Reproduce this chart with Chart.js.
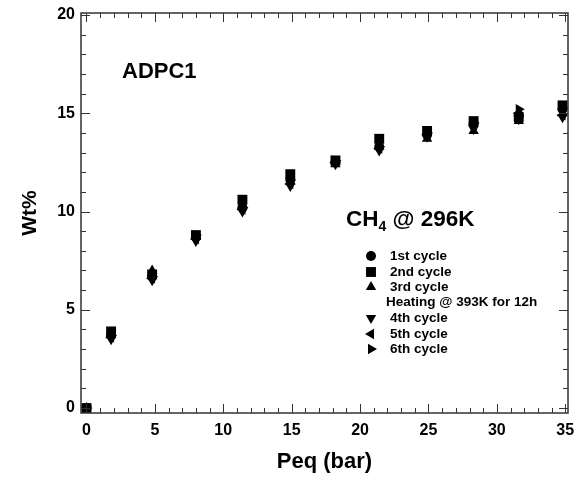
<!DOCTYPE html>
<html>
<head>
<meta charset="utf-8">
<script src="https://cdn.jsdelivr.net/npm/chart.js@4.4.1/dist/chart.umd.min.js"></script>
<style>
  html, body { margin: 0; padding: 0; background: #fff; }
  #wrap { width: 587px; height: 479px; }
</style>
</head>
<body>
<div id="wrap"><canvas id="chart"></canvas></div>
<script>
// pressure points (bar)
const pressure = [0, 1.8, 4.8, 8.0, 11.4, 14.9, 18.2, 21.4, 24.9, 28.3, 31.6, 34.8];

// uptake in Wt% for each cycle
const cycle1 = [0, 3.7, 6.7, 8.7, 10.2, 11.6, 12.5, 13.3, 13.9, 14.5, 14.9, 15.2];
const cycle2 = [0, 3.9, 6.8, 8.8, 10.6, 11.9, 12.6, 13.7, 14.1, 14.6, 14.8, 15.4];
const cycle3 = [0, 3.7, 7.0, 8.7, 10.3, 11.5, 12.4, 13.3, 13.7, 14.1, 14.6, 15.0];
const cycle4 = [0, 3.5, 6.5, 8.5, 10.0, 11.3, 12.4, 13.1, 13.8, 14.2, 14.7, 14.8];
const cycle5 = [0, 3.6, 6.6, 8.6, 10.1, 11.4, 12.5, 13.2, 13.9, 14.4, 15.0, 14.9];
const cycle6 = [0, 3.7, 6.7, 8.8, 10.2, 11.6, 12.6, 13.3, 14.0, 14.5, 15.2, 15.3];

const xTicks = [0, 5, 10, 15, 20, 25, 30, 35];
const yTicks = [0, 5, 10, 15, 20];

const cycleLabels = ['1st cycle', '2nd cycle', '3rd cycle', '4th cycle', '5th cycle', '6th cycle'];
const FONT = 'Liberation Sans, Arial, sans-serif';

function pts(ys) {
  return pressure.map((x, i) => ({ x: x, y: ys[i] }));
}

function series(label, ys, style, rot, r) {
  return {
    label: label,
    data: pts(ys),
    pointStyle: style,
    rotation: rot,
    pointRadius: r,
    backgroundColor: '#000',
    borderColor: '#000',
    borderWidth: 0,
    showLine: false
  };
}

// frame, inner ticks on all sides, annotations and the legend
const decorations = {
  id: 'decorations',
  afterDraw(chart) {
    const ctx = chart.ctx;
    const a = chart.chartArea;
    const xs = chart.scales.x, ys = chart.scales.y;
    ctx.save();
    ctx.strokeStyle = '#333';
    ctx.lineWidth = 1.5;
    ctx.strokeRect(a.left, a.top, a.right - a.left, a.bottom - a.top);

    ctx.lineWidth = 1;
    for (let v = 0; v <= 35; v++) {
      const px = Math.round(xs.getPixelForValue(v)) + 0.5;
      const len = v % 5 === 0 ? 9 : 5;
      ctx.beginPath();
      ctx.moveTo(px, a.bottom); ctx.lineTo(px, a.bottom - len);
      ctx.moveTo(px, a.top); ctx.lineTo(px, a.top + len);
      ctx.stroke();
    }
    for (let v = 0; v <= 20; v++) {
      const py = Math.round(ys.getPixelForValue(v)) + 0.5;
      const len = v % 5 === 0 ? 9 : 5;
      ctx.beginPath();
      ctx.moveTo(a.left, py); ctx.lineTo(a.left + len, py);
      ctx.moveTo(a.right, py); ctx.lineTo(a.right - len, py);
      ctx.stroke();
    }

    ctx.fillStyle = '#000';
    ctx.textBaseline = 'middle';
    ctx.textAlign = 'left';
    ctx.font = 'bold 22px ' + FONT;
    ctx.fillText('ADPC1', 122, 72);

    ctx.font = 'bold 22.5px ' + FONT;
    ctx.fillText('CH', 346, 220);
    let w = ctx.measureText('CH').width;
    ctx.font = 'bold 14px ' + FONT;
    ctx.fillText('4', 346 + w, 227);
    const w4 = ctx.measureText('4').width;
    ctx.font = 'bold 22.5px ' + FONT;
    ctx.fillText(' @ 296K', 346 + w + w4, 220);

    // legend
    ctx.font = 'bold 13.5px ' + FONT;
    const rows = [256, 272, 287, 318, 334, 349];
    chart.data.datasets.forEach((ds, i) => {
      Chart.helpers.drawPoint(ctx, {
        pointStyle: ds.pointStyle, rotation: ds.rotation, radius: ds.pointRadius, borderWidth: 0
      }, 371, rows[i]);
      ctx.fillText(cycleLabels[i], 390, rows[i]);
    });
    ctx.fillText('Heating @ 393K for 12h', 386, 302);
    ctx.restore();
  }
};

new Chart(document.getElementById('chart'), {
  type: 'scatter',
  data: {
    datasets: [
      series(cycleLabels[0], cycle1, 'circle', 0, 5),
      series(cycleLabels[1], cycle2, 'rect', 0, 7),
      series(cycleLabels[2], cycle3, 'triangle', 0, 6),
      series(cycleLabels[3], cycle4, 'triangle', 180, 6),
      series(cycleLabels[4], cycle5, 'triangle', 270, 6),
      series(cycleLabels[5], cycle6, 'triangle', 90, 6)
    ]
  },
  options: {
    responsive: true,
    maintainAspectRatio: false,
    animation: false,
    layout: { padding: { top: 13, right: 19, left: 0, bottom: 0 } },
    plugins: {
      legend: { display: false },
      tooltip: { enabled: false }
    },
    scales: {
      x: {
        type: 'linear',
        min: -0.4,
        max: 35.2,
        afterBuildTicks: s => { s.ticks = xTicks.map(v => ({ value: v })); },
        afterFit: s => { s.height = 66; },
        grid: { display: false },
        border: { display: false },
        ticks: { color: '#000', font: { family: FONT, size: 16, weight: 'bold' }, padding: 0, maxRotation: 0 },
        title: { display: true, text: 'Peq (bar)', color: '#000', font: { family: FONT, size: 22, weight: 'bold' }, padding: { top: 12 } }
      },
      y: {
        type: 'linear',
        min: -0.25,
        max: 20.1,
        afterBuildTicks: s => { s.ticks = yTicks.map(v => ({ value: v })); },
        afterFit: s => { s.width = 81; },
        grid: { display: false },
        border: { display: false },
        ticks: { color: '#000', font: { family: FONT, size: 16, weight: 'bold' }, padding: -2 },
        title: { display: true, text: 'Wt%', color: '#000', font: { family: FONT, size: 21, weight: 'bold' }, padding: { top: 18, bottom: 0 } }
      }
    }
  },
  plugins: [decorations]
});
</script>
</body>
</html>
